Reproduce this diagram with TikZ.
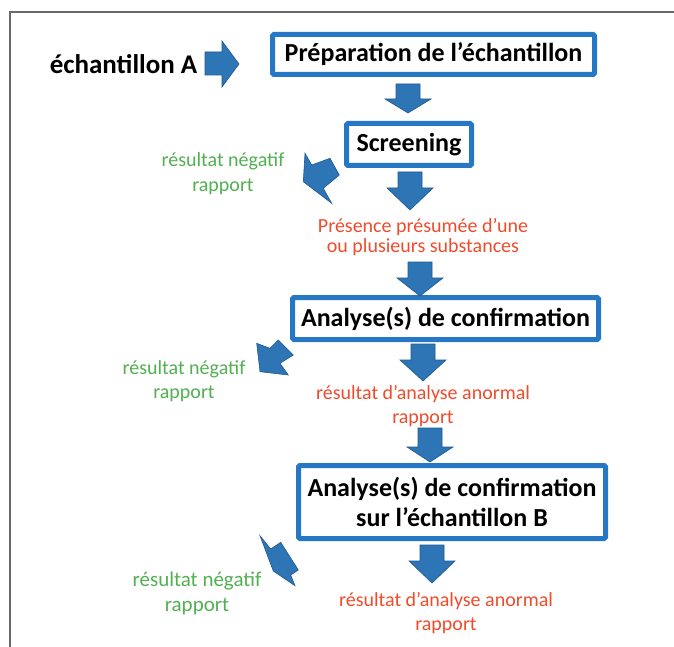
\documentclass[tikz,border=0pt]{standalone}
\usepackage{fontspec}
\setmainfont{Carlito}
\definecolor{ablue}{RGB}{46,117,182}
\definecolor{aedge}{RGB}{32,88,145}
\definecolor{bblue}{RGB}{38,120,196}
\definecolor{tgreen}{RGB}{82,176,82}
\definecolor{tred}{RGB}{240,76,44}
\definecolor{framegray}{RGB}{105,105,105}
\newcommand\blkdown[4]{%
  \fill[ablue,draw=aedge,line width=0.6pt] (#1-12,#2) -- (#1+12,#2) -- (#1+12,#3) -- (#1+23,#3) -- (#1,#4) -- (#1-23,#3) -- (#1-12,#3) -- cycle;}
\begin{document}
\begin{tikzpicture}[x=1pt,y=-1pt,
  stepbox/.style={draw=bblue,line width=5pt,rounded corners=1.5pt,fill=white,inner sep=0pt,align=center,font=\fontsize{26}{30}\selectfont\bfseries},
  greentxt/.style={text=tgreen,align=center,anchor=base,inner sep=0pt,font=\fontsize{20}{25}\selectfont},
  redtxt/.style={text=tred,align=center,anchor=base,inner sep=0pt,font=\fontsize{20}{24}\selectfont},
  blk/.style={fill=ablue,draw=aedge,line width=0.6pt}]
\useasboundingbox (0,0) rectangle (674,647);
\fill[white] (0,0) rectangle (674,647);
% frame
\draw[framegray,line width=2pt] (10,647) -- (10,12) -- (674,12);
% boxes
\node[stepbox,minimum width=322pt,minimum height=40pt] (prep) at (433.5,54.5) {Préparation de l’échantillon};
\node[stepbox,minimum width=125pt,minimum height=42pt] (screen) at (409,144.5) {Screening};
\node[stepbox,minimum width=306pt,minimum height=42pt] (ana1) at (445.5,318.5) {Analyse(s) de confirmation};
\node[stepbox,minimum width=307pt,minimum height=73pt] (ana2) at (452,502) {Analyse(s) de confirmation\\sur l’échantillon B};
% texts
\node[font=\fontsize{27}{30}\selectfont\bfseries,inner sep=0pt] (echA) at (123.5,64) {échantillon A};
\node[greentxt] (neg1) at (223,192) {résultat négatif\\rapport};
\node[redtxt,font=\fontsize{20}{20}\selectfont] (pres) at (423,252) {Présence présumée d’une\\ou plusieurs substances};
\node[greentxt,font=\fontsize{20}{24}\selectfont] (neg2) at (184,398) {résultat négatif\\rapport};
\node[redtxt] (aaf1) at (423,423) {résultat d’analyse anormal\\rapport};
\node[greentxt,font=\fontsize{21}{25}\selectfont] (neg3) at (197,611) {résultat négatif\\rapport};
\node[redtxt] (aaf2) at (446,630) {résultat d’analyse anormal\\rapport};
% block arrows
\fill[blk] (205,52) -- (222,52) -- (222,41) -- (239,64) -- (222,87) -- (222,75) -- (205,75) -- cycle;
\blkdown{408}{84}{99}{113}
\blkdown{410}{172}{188}{210}
\blkdown{420}{262}{278}{296}
\blkdown{423}{344}{360}{381}
\blkdown{430}{428}{447}{462}
\blkdown{432}{545}{561}{583}
% diagonal arrows
\fill[blk] (305,153.3) -- (311.7,165) -- (330,158.3) -- (339.3,175) -- (323.3,188.3) -- (331.7,203.3) -- (303.3,181.7) -- cycle;
\fill[blk] (256.7,343.3) -- (270,348.3) -- (278.3,340) -- (293.3,355) -- (280,363.3) -- (288.3,375) -- (260,371.7) -- cycle;
\fill[blk] (260,535.7) -- (270.7,549) -- (280.7,542.3) -- (298.3,570) -- (290.7,575) -- (295,585.7) -- (273.3,571) -- cycle;
\end{tikzpicture}
\end{document}
